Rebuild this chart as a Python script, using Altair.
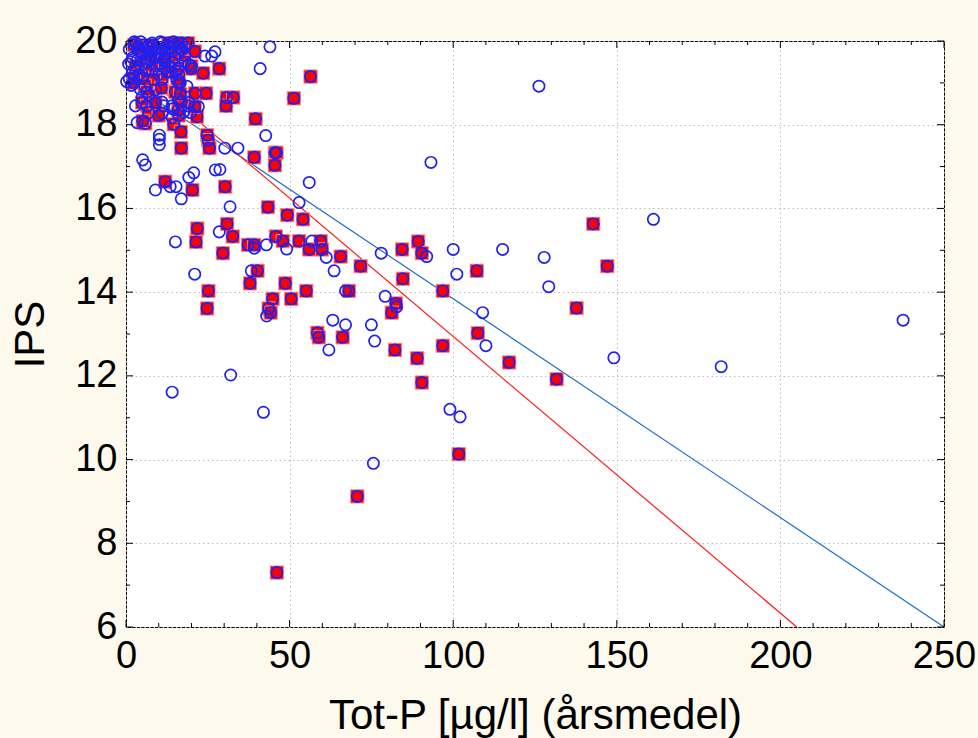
import altair as alt
import pandas as pd

# ---- data ----
# points that are also selected (red squares); every point also gets a blue circle
red_x = [2.5, 5, 7, 9, 11, 13, 14, 17, 19, 21, 3, 6, 8, 10, 12, 15, 18, 4, 20, 16,
         28.5, 23.6, 19.9, 15.1, 16.1, 15.6, 16.1, 12.7, 11, 8.5, 4.9, 2.4, 2.4, 5.7, 6.4, 10.8, 7.1, 4.9, 6.4, 6.9,
         5.9, 5.1, 14.6, 10, 9, 16.1, 15.9, 19.2, 21.7, 21, 16.1, 16.9, 15.1, 16.6, 21.1, 24.5,
         56.4, 51.3, 30.8, 32.8, 30.6, 39.6, 39.2, 45.5, 46, 45.5, 30.3,
         16.8, 16.9, 24.8, 25.1, 25.5, 12, 20.3, 21.8, 30.9, 43.4, 49.3, 54.1, 32.6, 45.8, 47.9, 52.9, 59.5,
         56, 59.9, 65.6, 71.7, 84.4, 89.3, 90.4, 107.2, 142.8, 147.1, 96.8, 84.6,
         21.4, 29.6, 37.3, 39.2, 40.2, 25.2, 37.9, 48.7, 55.1, 68.1, 24.8, 44.8, 43.6, 44.2, 50.5,
         82.5, 81.2, 137.7, 107.5, 58.5, 58.9, 66.2, 82.2, 96.8, 89, 117.1, 131.6, 90.4, 101.7, 70.7, 46.1,
         8, 12, 16, 3.5, 7.5]
red_y = [19.9, 19.7, 19.9, 19.6, 19.8, 19.95, 19.5, 19.8, 19.95, 19.75, 19.4, 19.5, 19.3, 19.45, 19.35, 19.6, 19.5, 19.2, 19.4, 19.35,
         19.34, 19.23, 19.34, 19.29, 19.2, 19.08, 19.0, 19.26, 19.08, 19.08, 19.12, 19.11, 19.0, 18.93, 18.78, 18.88, 18.69, 18.53, 18.45, 18.29,
         18.03, 18.09, 18.01, 18.22, 18.53, 18.22, 18.35, 18.53, 18.19, 18.43, 18.6, 18.54, 18.78, 18.73, 18.75, 18.75,
         19.15, 18.63, 18.65, 18.65, 18.45, 18.14, 17.22, 17.33, 17.33, 17.03, 16.52,
         17.83, 17.44, 17.75, 17.63, 17.44, 16.64, 16.44, 15.52, 15.63, 16.03, 15.84, 15.74, 15.33, 15.33, 15.22, 15.22, 15.22,
         15.02, 15.02, 14.85, 14.62, 15.02, 15.21, 14.93, 14.51, 15.63, 14.62, 14.03, 14.32,
         15.2, 14.93, 15.13, 15.13, 14.51, 14.03, 14.21, 14.21, 14.03, 14.03, 13.61, 13.84, 13.61, 13.51, 13.84,
         13.73, 13.51, 13.62, 13.02, 13.03, 12.92, 12.92, 12.62, 12.72, 12.42, 12.32, 11.92, 11.84, 10.13, 9.12, 7.3,
         19.75, 19.6, 19.95, 19.85, 19.65]

# remaining points (blue circles only)
blue_x = [1, 2, 3, 4, 5, 6, 7, 8, 9, 10, 11, 12, 13, 14, 15, 16, 17, 18, 1.5, 3.5, 5.5, 7.5, 9.5, 11.5, 13.5, 2, 6, 10, 14, 1,
          44, 41, 24.1, 26.2, 27.2, 19.2, 1.6, 4.4, 9, 4.9, 2.9, 11, 11.5, 14.1, 14.3, 11, 3.4, 14.1, 17.6, 19, 19.7,
          16.6, 18.6, 0.2, 22.1, 126.2, 42.7, 30.2, 34.2, 28.7, 31.8, 56, 52.9, 93.2,
          10.2, 10.2, 10.2, 5.1, 5.9, 9, 13.5, 15.3, 16.9, 19.2, 20.7, 27.3, 28.5, 15.1, 39.2, 42.9, 49.1, 56.8, 61.2,
          78, 63.6, 21, 38.3, 67.1, 79.2, 82.7, 43, 63.2, 67.1, 75, 76, 62, 32, 14.1, 42, 75.6,
          100, 115.1, 127.8, 101.1, 129.2, 109, 110, 149.1, 161.2, 181.9, 237.5, 99, 102.1, 91.9,
          2.5, 4.5, 6.5, 8.5, 10.5, 12.5, 14.5, 16.5, 0.8, 3, 12, 18]
blue_y = [19.8, 19.6, 19.95, 19.75, 19.9, 19.6, 19.75, 19.95, 19.8, 19.65, 19.95, 19.7, 19.85, 19.75, 19.9, 19.7, 19.95, 19.65,
          19.5, 19.55, 19.45, 19.55, 19.4, 19.55, 19.4, 19.25, 19.3, 19.2, 19.25, 19.1,
          19.86, 19.34, 19.64, 19.64, 19.74, 19.44, 18.94, 18.85, 18.83, 18.65, 18.45, 18.54, 18.45, 18.45, 18.38, 18.27, 18.05, 18.17, 18.3, 18.45, 18.29,
          19.0, 18.92, 19.03, 18.43, 18.92, 17.74, 17.44, 17.44, 16.93, 16.04, 16.62, 16.14, 17.1,
          17.75, 17.65, 17.52, 17.16, 17.04, 16.44, 16.52, 16.52, 16.23, 16.74, 16.85, 16.92, 15.44, 15.2, 15.05, 15.13, 15.03, 15.22, 14.83,
          14.93, 14.51, 14.43, 14.51, 14.03, 13.9, 13.65, 13.43, 13.33, 13.22, 13.22, 12.83, 12.62, 12.02, 11.61, 11.13, 9.91,
          15.02, 15.02, 14.83, 14.43, 14.13, 13.51, 12.72, 12.43, 15.74, 12.22, 13.33, 11.2, 11.02, 14.85,
          19.98, 19.98, 19.85, 19.9, 19.98, 19.9, 19.98, 19.85, 19.45, 19.3, 19.5, 19.85]

# fitted lines (end points)
fit_all_x = [0, 250]
fit_all_y = [19.07, 6.0]
fit_sel_x = [0, 205]
fit_sel_y = [19.55, 6.0]

x_major = [0, 50, 100, 150, 200, 250]
x_minor = [10, 20, 30, 40, 60, 70, 80, 90, 110, 120, 130, 140, 160, 170, 180, 190, 210, 220, 230, 240]
y_major = [6, 8, 10, 12, 14, 16, 18, 20]
y_minor = [7, 9, 11, 13, 15, 17, 19]

FONT = "Liberation Sans"
W, H = 818, 586

xs = alt.Scale(domain=[0, 250], nice=False, zero=False)
ys = alt.Scale(domain=[6, 20], nice=False, zero=False)

red_df = pd.DataFrame({"x": red_x, "y": red_y})
all_df = pd.DataFrame({"x": red_x + blue_x, "y": red_y + blue_y})
line_all = pd.DataFrame({"x": fit_all_x, "y": fit_all_y})
line_sel = pd.DataFrame({"x": fit_sel_x, "y": fit_sel_y})

xaxis = alt.Axis(values=x_major, grid=True, gridDash=[1.5, 3], gridColor="#bdbdbd", gridWidth=1,
                 ticks=False, domain=False, labelFont=FONT, labelFontSize=38, labelColor="black",
                 labelPadding=10, title="Tot-P [µg/l] (årsmedel)", titleFont=FONT, titleFontSize=42,
                 titleFontWeight="normal", titleColor="black", titlePadding=20, labelFlush=False)
yaxis = alt.Axis(values=y_major, grid=True, gridDash=[1.5, 3], gridColor="#bdbdbd", gridWidth=1,
                 ticks=False, domain=False, labelFont=FONT, labelFontSize=38, labelColor="black",
                 labelPadding=9, title="IPS", titleFont=FONT, titleFontSize=42,
                 titleFontWeight="normal", titleColor="black", titlePadding=22, labelFlush=False)

base_grid = alt.Chart(pd.DataFrame({"x": [0], "y": [6]})).mark_point(opacity=0).encode(
    x=alt.X("x:Q", scale=xs, axis=xaxis),
    y=alt.Y("y:Q", scale=ys, axis=yaxis),
)

line1 = alt.Chart(line_all).mark_line(color="#1e6cc8", strokeWidth=1.2).encode(
    x=alt.X("x:Q", scale=xs), y=alt.Y("y:Q", scale=ys))
line2 = alt.Chart(line_sel).mark_line(color="#ff1a1a", strokeWidth=1.2).encode(
    x=alt.X("x:Q", scale=xs), y=alt.Y("y:Q", scale=ys))

squares = alt.Chart(red_df).mark_point(shape="square", filled=True, size=175, fill="#ff0000",
                                       stroke="#f58a8a", strokeWidth=1, opacity=1).encode(
    x=alt.X("x:Q", scale=xs), y=alt.Y("y:Q", scale=ys))
circles = alt.Chart(all_df).mark_point(shape="circle", filled=False, size=128, color="#2020f0",
                                       strokeWidth=1.7, opacity=1).encode(
    x=alt.X("x:Q", scale=xs), y=alt.Y("y:Q", scale=ys))

def xticks(vals, ln, top):
    df = pd.DataFrame({"v": vals})
    y1 = 0 if top else H
    y2 = ln if top else H - ln
    return alt.Chart(df).mark_rule(color="black", strokeWidth=1).encode(
        x=alt.X("v:Q", scale=xs), y=alt.value(y1), y2=alt.value(y2))

def yticks(vals, ln, right):
    df = pd.DataFrame({"v": vals})
    x1 = W if right else 0
    x2 = W - ln if right else ln
    return alt.Chart(df).mark_rule(color="black", strokeWidth=1).encode(
        y=alt.Y("v:Q", scale=ys), x=alt.value(x1), x2=alt.value(x2))

ticks = [xticks(x_major, 7, False), xticks(x_minor, 4, False), xticks(x_major, 7, True), xticks(x_minor, 4, True),
         yticks(y_major, 7, False), yticks(y_minor, 4, False), yticks(y_major, 7, True), yticks(y_minor, 4, True)]

chart = alt.layer(base_grid, line1, line2, squares, circles, *ticks).properties(
    width=W, height=H,
    background="#fdf9ed",
    padding={"left": 126, "top": 41, "right": 34, "bottom": 111},
    autosize=alt.AutoSizeParams(type="none"),
).configure_view(fill="white", stroke="black", strokeWidth=1)

chart.save("out.html", embed_options={"renderer": "svg", "actions": False})
